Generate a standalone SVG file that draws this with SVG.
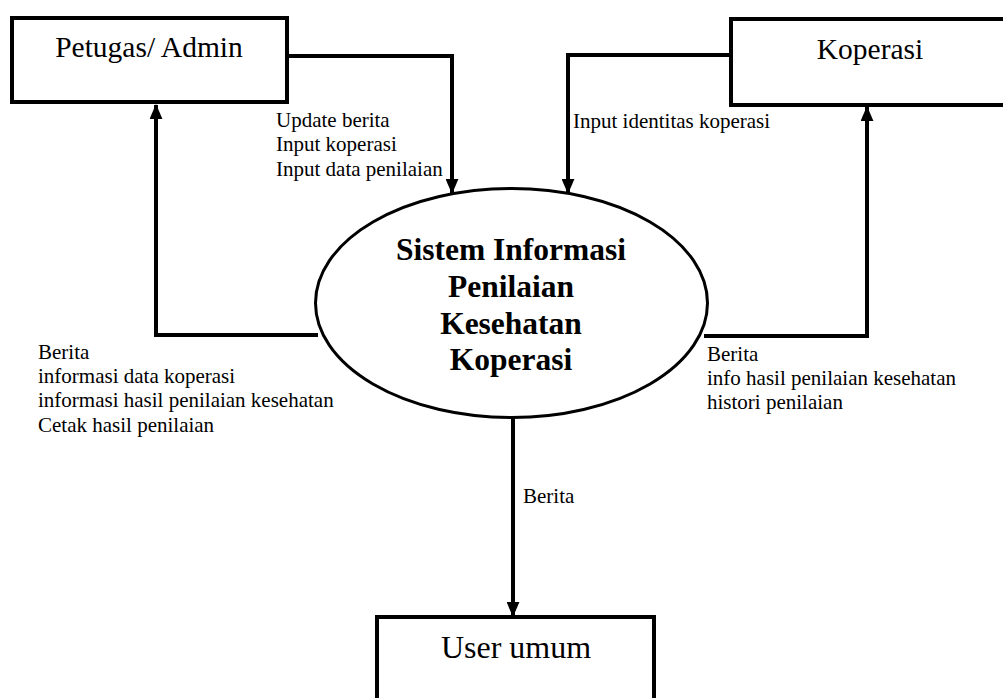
<svg xmlns="http://www.w3.org/2000/svg" width="1003" height="698" viewBox="0 0 1003 698">
  <style>
    .box { fill: #fff; stroke: #000; stroke-width: 4; }
    .proc { fill: #fff; stroke: #000; stroke-width: 3; }
    .flow { fill: none; stroke: #000; stroke-width: 4; marker-end: url(#head); }
    .ent { font-family: "Liberation Serif", "Times New Roman", serif; font-size: 29.5px; fill: #000; text-anchor: middle; }
    .title { font-family: "Liberation Serif", "Times New Roman", serif; font-size: 31.5px; font-weight: bold; fill: #000; text-anchor: middle; }
    .lbl { font-family: "Liberation Serif", "Times New Roman", serif; font-size: 21px; fill: #000; }
  </style>
  <defs>
    <marker id="head" viewBox="0 0 14 12" refX="13" refY="6" markerUnits="userSpaceOnUse" markerWidth="15" markerHeight="13" orient="auto">
      <path d="M0,0 L14,6 L0,12 Z" fill="#000"/>
    </marker>
  </defs>
  <rect width="1003" height="698" fill="#fff"/>

  <!-- data flows -->
  <g id="connectors">
    <path class="flow" d="M287,56 H452 V193"/>
    <path class="flow" d="M731,55 H568 V193"/>
    <path class="flow" d="M318,335 H156 V105"/>
    <path class="flow" d="M704,336 H867 V107"/>
    <path class="flow" d="M513,418 V616"/>
  </g>

  <!-- flow labels -->
  <g id="labels">
    <text class="lbl" x="276" y="127">Update berita</text>
    <text class="lbl" x="276" y="151">Input koperasi</text>
    <text class="lbl" x="276" y="176">Input data penilaian</text>
    <text class="lbl" x="573" y="128">Input identitas koperasi</text>
    <text class="lbl" x="38" y="359">Berita</text>
    <text class="lbl" x="38" y="383">informasi data koperasi</text>
    <text class="lbl" x="38" y="407">informasi hasil penilaian kesehatan</text>
    <text class="lbl" x="38" y="432">Cetak hasil penilaian</text>
    <text class="lbl" x="707" y="361">Berita</text>
    <text class="lbl" x="707" y="385">info hasil penilaian kesehatan</text>
    <text class="lbl" x="707" y="409">histori penilaian</text>
    <text class="lbl" x="523" y="503">Berita</text>
  </g>

  <g id="petugas">
    <rect class="box" x="12" y="18" width="275" height="84"/>
    <text class="ent" x="149" y="57">Petugas/ Admin</text>
  </g>

  <g id="koperasi">
    <path class="box" d="M1010,19 H731 V105 H1010"/>
    <text class="ent" x="870" y="59">Koperasi</text>
  </g>

  <g id="sistem">
    <ellipse class="proc" cx="511.5" cy="303" rx="196" ry="114.5"/>
    <text class="title" x="511" y="260">Sistem Informasi</text>
    <text class="title" x="511" y="297">Penilaian</text>
    <text class="title" x="511" y="334">Kesehatan</text>
    <text class="title" x="511" y="370">Koperasi</text>
  </g>

  <g id="user-umum">
    <path class="box" d="M377,705 V617 H654 V705"/>
    <text class="ent" x="516" y="658" style="font-size:32px">User umum</text>
  </g>
</svg>
